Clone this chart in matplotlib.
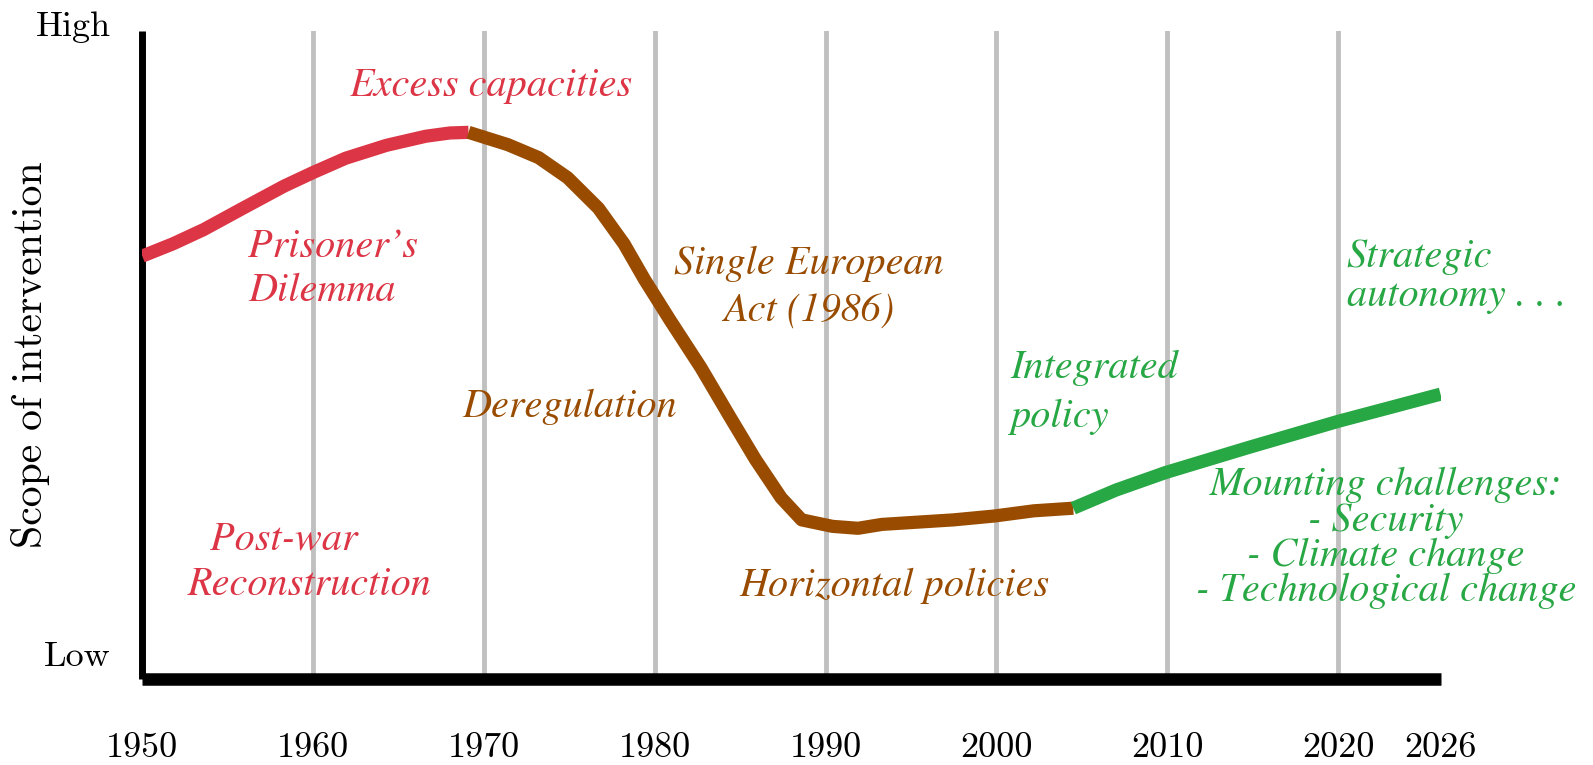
import numpy as np
import matplotlib.pyplot as plt

# Данные кривой (год, уровень вмешательства 0..10)
red_years = [1950, 1951.8, 1953.6, 1955.9, 1958.3, 1960, 1961.9, 1964.3, 1966.6, 1968.0, 1969.1]
red_vals = [6.52, 6.71, 6.93, 7.26, 7.60, 7.81, 8.03, 8.23, 8.37, 8.42, 8.43]

brown_years = [1969.1, 1971.4, 1973.2, 1974.9, 1976.7, 1978.2, 1979.4, 1980.9, 1982.7,
               1984.4, 1985.9, 1987.4, 1988.6, 1990.4, 1991.9, 1993.3, 1994.5, 1997.5,
               1999.9, 2002.2, 2004.5]
brown_vals = [8.43, 8.24, 8.04, 7.73, 7.26, 6.71, 6.16, 5.53, 4.80, 4.04, 3.38, 2.79,
              2.45, 2.35, 2.32, 2.38, 2.40, 2.45, 2.51, 2.59, 2.63]

green_years = [2004.5, 2007.0, 2009.9, 2014.8, 2020.0, 2026]
green_vals = [2.63, 2.91, 3.18, 3.57, 3.97, 4.39]

tick_years = [1950, 1960, 1970, 1980, 1990, 2000, 2010, 2020, 2026]
grid_years = [1960, 1970, 1980, 1990, 2000, 2010, 2020]

RED = '#dc3545'
BROWN = '#994c00'
GREEN = '#28a745'

fig = plt.figure(figsize=(15.93, 7.65), dpi=100)
ax = fig.add_axes([0.0893, 0.1129, 0.8150, 0.8471])
ax.set_xlim(1950, 2026)
ax.set_ylim(0, 10)

for g in grid_years:
    ax.axvline(g, color='#c0c0c0', lw=3.5, zorder=1)

kw = dict(lw=9.5, solid_capstyle='butt', solid_joinstyle='round', zorder=3)
ax.plot(red_years, red_vals, color=RED, **kw)
ax.plot(brown_years, brown_vals, color=BROWN, **kw)
ax.plot(green_years, green_vals, color=GREEN, **kw)

# Оси
for s in ['top', 'right']:
    ax.spines[s].set_visible(False)
ax.spines['left'].set_linewidth(5)
ax.spines['bottom'].set_linewidth(9)
ax.spines['left'].set_capstyle('butt')
ax.spines['bottom'].set_capstyle('butt')

ax.set_xticks(tick_years)
ax.set_xticklabels([str(t) for t in tick_years], fontfamily='cmr10', fontsize=26)
ax.tick_params(axis='x', length=0, pad=39)
ax.set_yticks([])

ax.set_ylabel('Scope of intervention', fontfamily='cmr10', fontsize=30)
ax.yaxis.set_label_coords(-0.071, 0.5)
ax.text(-0.024, 10.05, 'High', transform=ax.get_yaxis_transform(), ha='right', va='center',
        fontfamily='cmr10', fontsize=26, clip_on=False)
ax.text(-0.024, 0.33, 'Low', transform=ax.get_yaxis_transform(), ha='right', va='center',
        fontfamily='cmr10', fontsize=26, clip_on=False)

# Подписи
it = dict(fontfamily='STIXGeneral', style='italic', fontsize=29, clip_on=False)
ax.text(1970.4, 9.14, 'Excess capacities', color=RED, ha='center', va='center', **it)
ax.text(1956.2, 6.32, 'Prisoner\u2019s\nDilemma', color=RED, ha='left', va='center',
        linespacing=1.28, **it)
ax.text(1958.3, 2.15, 'Post-war', color=RED, ha='center', va='center', **it)
ax.text(1959.8, 1.45, 'Reconstruction', color=RED, ha='center', va='center', **it)
ax.text(1989.0, 6.03, 'Single European\nAct (1986)', color=BROWN, ha='center', va='center',
        linespacing=1.39, **it)
ax.text(1975.0, 4.20, 'Deregulation', color=BROWN, ha='center', va='center', **it)
ax.text(1994.0, 1.43, 'Horizontal policies', color=BROWN, ha='center', va='center', **it)
ax.text(2000.8, 4.42, 'Integrated\npolicy', color=GREEN, ha='left', va='center',
        linespacing=1.44, **it)
ax.text(2020.5, 6.21, 'Strategic\nautonomy . . .', color=GREEN, ha='left', va='center',
        linespacing=1.08, **it)
ax.text(2022.8, 2.17, 'Mounting challenges:\n- Security\n- Climate change\n- Technological change',
        color=GREEN, ha='center', va='center', linespacing=0.96, **it)

fig.savefig('out.png', dpi=100)
